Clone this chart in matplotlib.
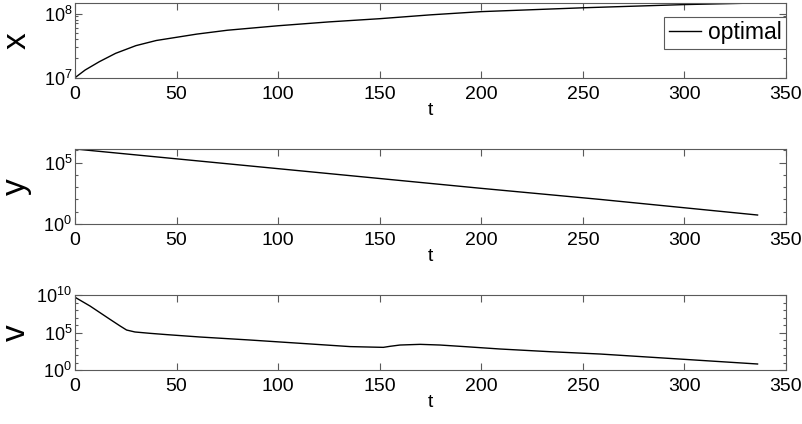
import numpy as np
import matplotlib
matplotlib.use("Agg")
import matplotlib.pyplot as plt
from matplotlib.ticker import FixedLocator, FixedFormatter, NullFormatter

plt.rcParams['font.family'] = ['Liberation Sans', 'DejaVu Sans']
plt.rcParams['mathtext.default'] = 'regular'

# ---- data ----
t_x = [0, 5, 12, 20, 30, 40, 50, 60, 75, 100, 125, 150, 175, 200, 250, 300, 336]
log_x = [7.0, 7.12, 7.25, 7.38, 7.5, 7.58, 7.63, 7.68, 7.74, 7.81, 7.87, 7.92, 7.98, 8.03, 8.09, 8.14, 8.165]

t_y = [0, 100, 200, 258.5, 336]
log_y = [6.1, 4.5, 2.9, 2.0, 0.73]

t_v = [0, 7.4, 17.2, 22.2, 25.4, 29.5, 36.9, 45, 61.5, 86, 110.8, 135.4, 145, 151.8, 155.1, 160, 169.9,
       179.7, 192.8, 209.2, 233.9, 258.5, 300, 336]
log_v = [9.7, 8.53, 6.76, 5.87, 5.33, 5.07, 4.89, 4.72, 4.4, 4.0, 3.56, 3.12, 3.06, 3.02, 3.16, 3.33, 3.42,
         3.33, 3.1, 2.8, 2.44, 2.13, 1.42, 0.8]

xticks = [0, 50, 100, 150, 200, 250, 300, 350]
legend_label = 'optimal'

# ---- figure ----
fig = plt.figure(figsize=(8.03, 4.24), dpi=100)
W, H = 803, 424
def rect(left, top, right, bottom):
    return [left / W, 1 - bottom / H, (right - left) / W, (bottom - top) / H]

ax1 = fig.add_axes(rect(75, 3.3, 786, 77.7))
ax2 = fig.add_axes(rect(75, 149, 786, 224))
ax3 = fig.add_axes(rect(75, 295, 786, 370))

spine_col = '#5a5a5a'
axes = [ax1, ax2, ax3]
series = [(t_x, log_x, 'x'), (t_y, log_y, 'y'), (t_v, log_v, 'v')]
ylims = [(1e7, 10 ** 8.16), (1, 10 ** 6.1), (1, 1e10)]
major_ticks = [[1e7, 1e8], [1e0, 1e5], [1e0, 1e5, 1e10]]
major_labels = [['$10^{7}$', '$10^{8}$'], ['$10^{0}$', '$10^{5}$'], ['$10^{0}$', '$10^{5}$', '$10^{10}$']]
minor_ticks = [
    [k * 1e7 for k in range(2, 10)],
    [1e1, 1e2, 1e3, 1e4, 1e6],
    [1e1, 1e2, 1e3, 1e4, 1e6, 1e7, 1e8, 1e9],
]

for ax, (tt, lv, name), yl, mj, ml, mn in zip(axes, series, ylims, major_ticks, major_labels, minor_ticks):
    ax.plot(tt, 10 ** np.array(lv), color='black', lw=1.0, label=legend_label)
    ax.set_yscale('log')
    ax.set_xlim(0, 350)
    ax.set_ylim(*yl)
    ax.xaxis.set_major_locator(FixedLocator(xticks))
    ax.yaxis.set_major_locator(FixedLocator(mj))
    ax.yaxis.set_major_formatter(FixedFormatter(ml))
    ax.yaxis.set_minor_locator(FixedLocator(mn))
    ax.yaxis.set_minor_formatter(NullFormatter())
    ax.tick_params(which='both', direction='in', top=True, right=True, colors=spine_col,
                   labelcolor='black', width=0.8)
    ax.tick_params(which='major', length=5)
    ax.tick_params(which='minor', length=2.5)
    ax.tick_params(axis='x', pad=6, labelsize=14)
    ax.tick_params(axis='y', pad=2, labelsize=13)
    for s in ax.spines.values():
        s.set_color(spine_col)
        s.set_linewidth(0.8)
    ax.set_xlabel('t', fontsize=14, labelpad=-1)
    ax.set_ylabel(name, fontsize=24, labelpad=0)
    ax.yaxis.set_label_coords(-0.060, 0.5)

leg = ax1.legend(loc='upper right', bbox_to_anchor=(1.0, 0.82), borderaxespad=0,
                 fancybox=False, framealpha=1, edgecolor=spine_col, fontsize=16.5,
                 handlelength=1.4, handletextpad=0.3, borderpad=0.2)
leg.get_frame().set_linewidth(0.8)

fig.savefig('out.png', dpi=100)
